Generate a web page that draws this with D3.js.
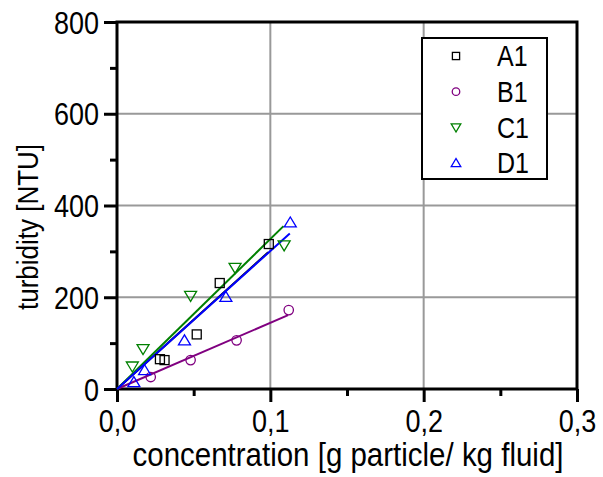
<!DOCTYPE html>
<html>
<head>
<meta charset="utf-8">
<script src="https://cdn.jsdelivr.net/npm/d3@7"></script>
<style>
  body { margin: 0; background: #fff; }
  svg text {
    font-family: "Liberation Sans", Arial, sans-serif;
    /* the source font is a little taller than Arial */
    transform-box: fill-box; transform-origin: center; transform: scaleY(1.15);
  }
</style>
</head>
<body>
<svg id="chart" width="603" height="477"></svg>
<script>
// series names and colours
const seriesNames = ['A1', 'B1', 'C1', 'D1'];
const seriesColors = ['#000000', '#800080', '#008000', '#0000ff'];
const seriesSymbols = ['square', 'circle', 'down', 'up'];

// concentration [g/kg] and turbidity [NTU]
const concA1 = [0.028, 0.031, 0.052, 0.067, 0.099];
const turbA1 = [65, 63, 119, 231, 316];
const concB1 = [0.022, 0.048, 0.078, 0.112];
const turbB1 = [26, 63, 106, 172];
const concC1 = [0.010, 0.017, 0.048, 0.077, 0.109];
const turbC1 = [49, 87, 203, 264, 313];
const concD1 = [0.011, 0.018, 0.044, 0.071, 0.113];
const turbD1 = [15, 41, 106, 201, 363];

// fitted lines through origin: [x end, y end]
const fitEnds = [[0.0986, 298], [0.1116, 161], [0.1086, 355], [0.1127, 339]];

const xTicks = [0, 0.1, 0.2, 0.3];
const yTicks = [0, 200, 400, 600, 800];

const concs = [concA1, concB1, concC1, concD1];
const turbs = [turbA1, turbB1, turbC1, turbD1];

const svg = d3.select('#chart');
const m = { left: 117, right: 577, top: 22, bottom: 389 };

const x = d3.scaleLinear().domain([0, 0.3]).range([m.left, m.right]);
const y = d3.scaleLinear().domain([0, 800]).range([m.bottom, m.top]);

// grid
const grid = svg.append('g').attr('stroke', '#999').attr('stroke-width', 2);
grid.selectAll('.gx').data([0.1, 0.2]).join('line')
  .attr('x1', d => x(d)).attr('x2', d => x(d)).attr('y1', m.top).attr('y2', m.bottom);
grid.selectAll('.gy').data([200, 400, 600]).join('line')
  .attr('y1', d => y(d)).attr('y2', d => y(d)).attr('x1', m.left).attr('x2', m.right);

// axes
const fmt = d3.format('.1f');
const xAxis = d3.axisBottom(x).tickValues(xTicks).tickSize(13).tickPadding(9)
  .tickFormat(d => fmt(d).replace('.', ','));
const xMinor = d3.axisBottom(x).tickValues([0.05, 0.15, 0.25]).tickSize(7).tickFormat('');
const yAxis = d3.axisLeft(y).tickValues(yTicks).tickSize(13).tickPadding(5);
const yMinor = d3.axisLeft(y).tickValues([100, 300, 500, 700]).tickSize(7).tickFormat('');

function styleAxis(g) {
  g.select('.domain').remove();
  g.selectAll('line').attr('stroke', '#000').attr('stroke-width', 3);
  g.selectAll('text').attr('font-size', 27).attr('fill', '#000');
}
svg.append('g').attr('transform', `translate(0,${m.bottom})`).call(xAxis).call(styleAxis);
svg.append('g').attr('transform', `translate(0,${m.bottom})`).call(xMinor).call(styleAxis);
svg.append('g').attr('transform', `translate(${m.left},0)`).call(yAxis).call(styleAxis)
  .selectAll('text').attr('dy', '0.36em');
svg.append('g').attr('transform', `translate(${m.left},0)`).call(yMinor).call(styleAxis);

// frame
svg.append('rect').attr('x', m.left).attr('y', m.top)
  .attr('width', m.right - m.left).attr('height', m.bottom - m.top)
  .attr('fill', 'none').attr('stroke', '#000').attr('stroke-width', 3);

// fit lines
const line = d3.line().x(d => x(d[0])).y(d => y(d[1]));
fitEnds.forEach((e, i) => {
  svg.append('path').attr('d', line([[0, 0], e]))
    .attr('fill', 'none').attr('stroke', seriesColors[i]).attr('stroke-width', 2);
});

// markers
function drawMarker(g, type, cx, cy, s, color) {
  if (type === 'square') {
    g.append('rect').attr('x', cx - s * 0.45).attr('y', cy - s * 0.45)
      .attr('width', s * 0.9).attr('height', s * 0.9)
      .attr('fill', 'none').attr('stroke', color).attr('stroke-width', 1.3);
  } else if (type === 'circle') {
    g.append('circle').attr('cx', cx).attr('cy', cy).attr('r', s * 0.47)
      .attr('fill', 'none').attr('stroke', color).attr('stroke-width', 1.3);
  } else {
    const h = s * 0.9, w = s * 0.6;
    const dir = type === 'up' ? 1 : -1;
    const pts = [[cx, cy - dir * h / 2 - dir], [cx - w, cy + dir * h / 2], [cx + w, cy + dir * h / 2]];
    g.append('polygon').attr('points', pts.map(p => p.join(',')).join(' '))
      .attr('fill', 'none').attr('stroke', color).attr('stroke-width', 1.3);
  }
}

const marks = svg.append('g');
concs.forEach((cs, i) => {
  cs.forEach((c, j) => {
    drawMarker(marks, seriesSymbols[i], x(c), y(turbs[i][j]), 10, seriesColors[i]);
  });
});

// legend
const lg = svg.append('g');
lg.append('rect').attr('x', 422).attr('y', 38).attr('width', 125).attr('height', 141)
  .attr('fill', '#fff').attr('stroke', '#000').attr('stroke-width', 2);
seriesNames.forEach((n, i) => {
  const cy = 56 + i * 35.7;
  drawMarker(lg, seriesSymbols[i], 456, cy, 8, seriesColors[i]);
  lg.append('text').attr('x', 497).attr('y', cy).attr('dy', '0.36em')
    .attr('font-size', 25).text(n);
});

// axis titles
svg.append('text').attr('x', (m.left + m.right) / 2 + 1).attr('y', 464)
  .attr('text-anchor', 'middle').attr('font-size', 29.5).text('concentration [g particle/ kg fluid]');
svg.append('g').attr('transform', 'translate(37,227) rotate(-90)')
  .append('text').attr('text-anchor', 'middle').attr('font-size', 26).text('turbidity [NTU]');
</script>
</body>
</html>
